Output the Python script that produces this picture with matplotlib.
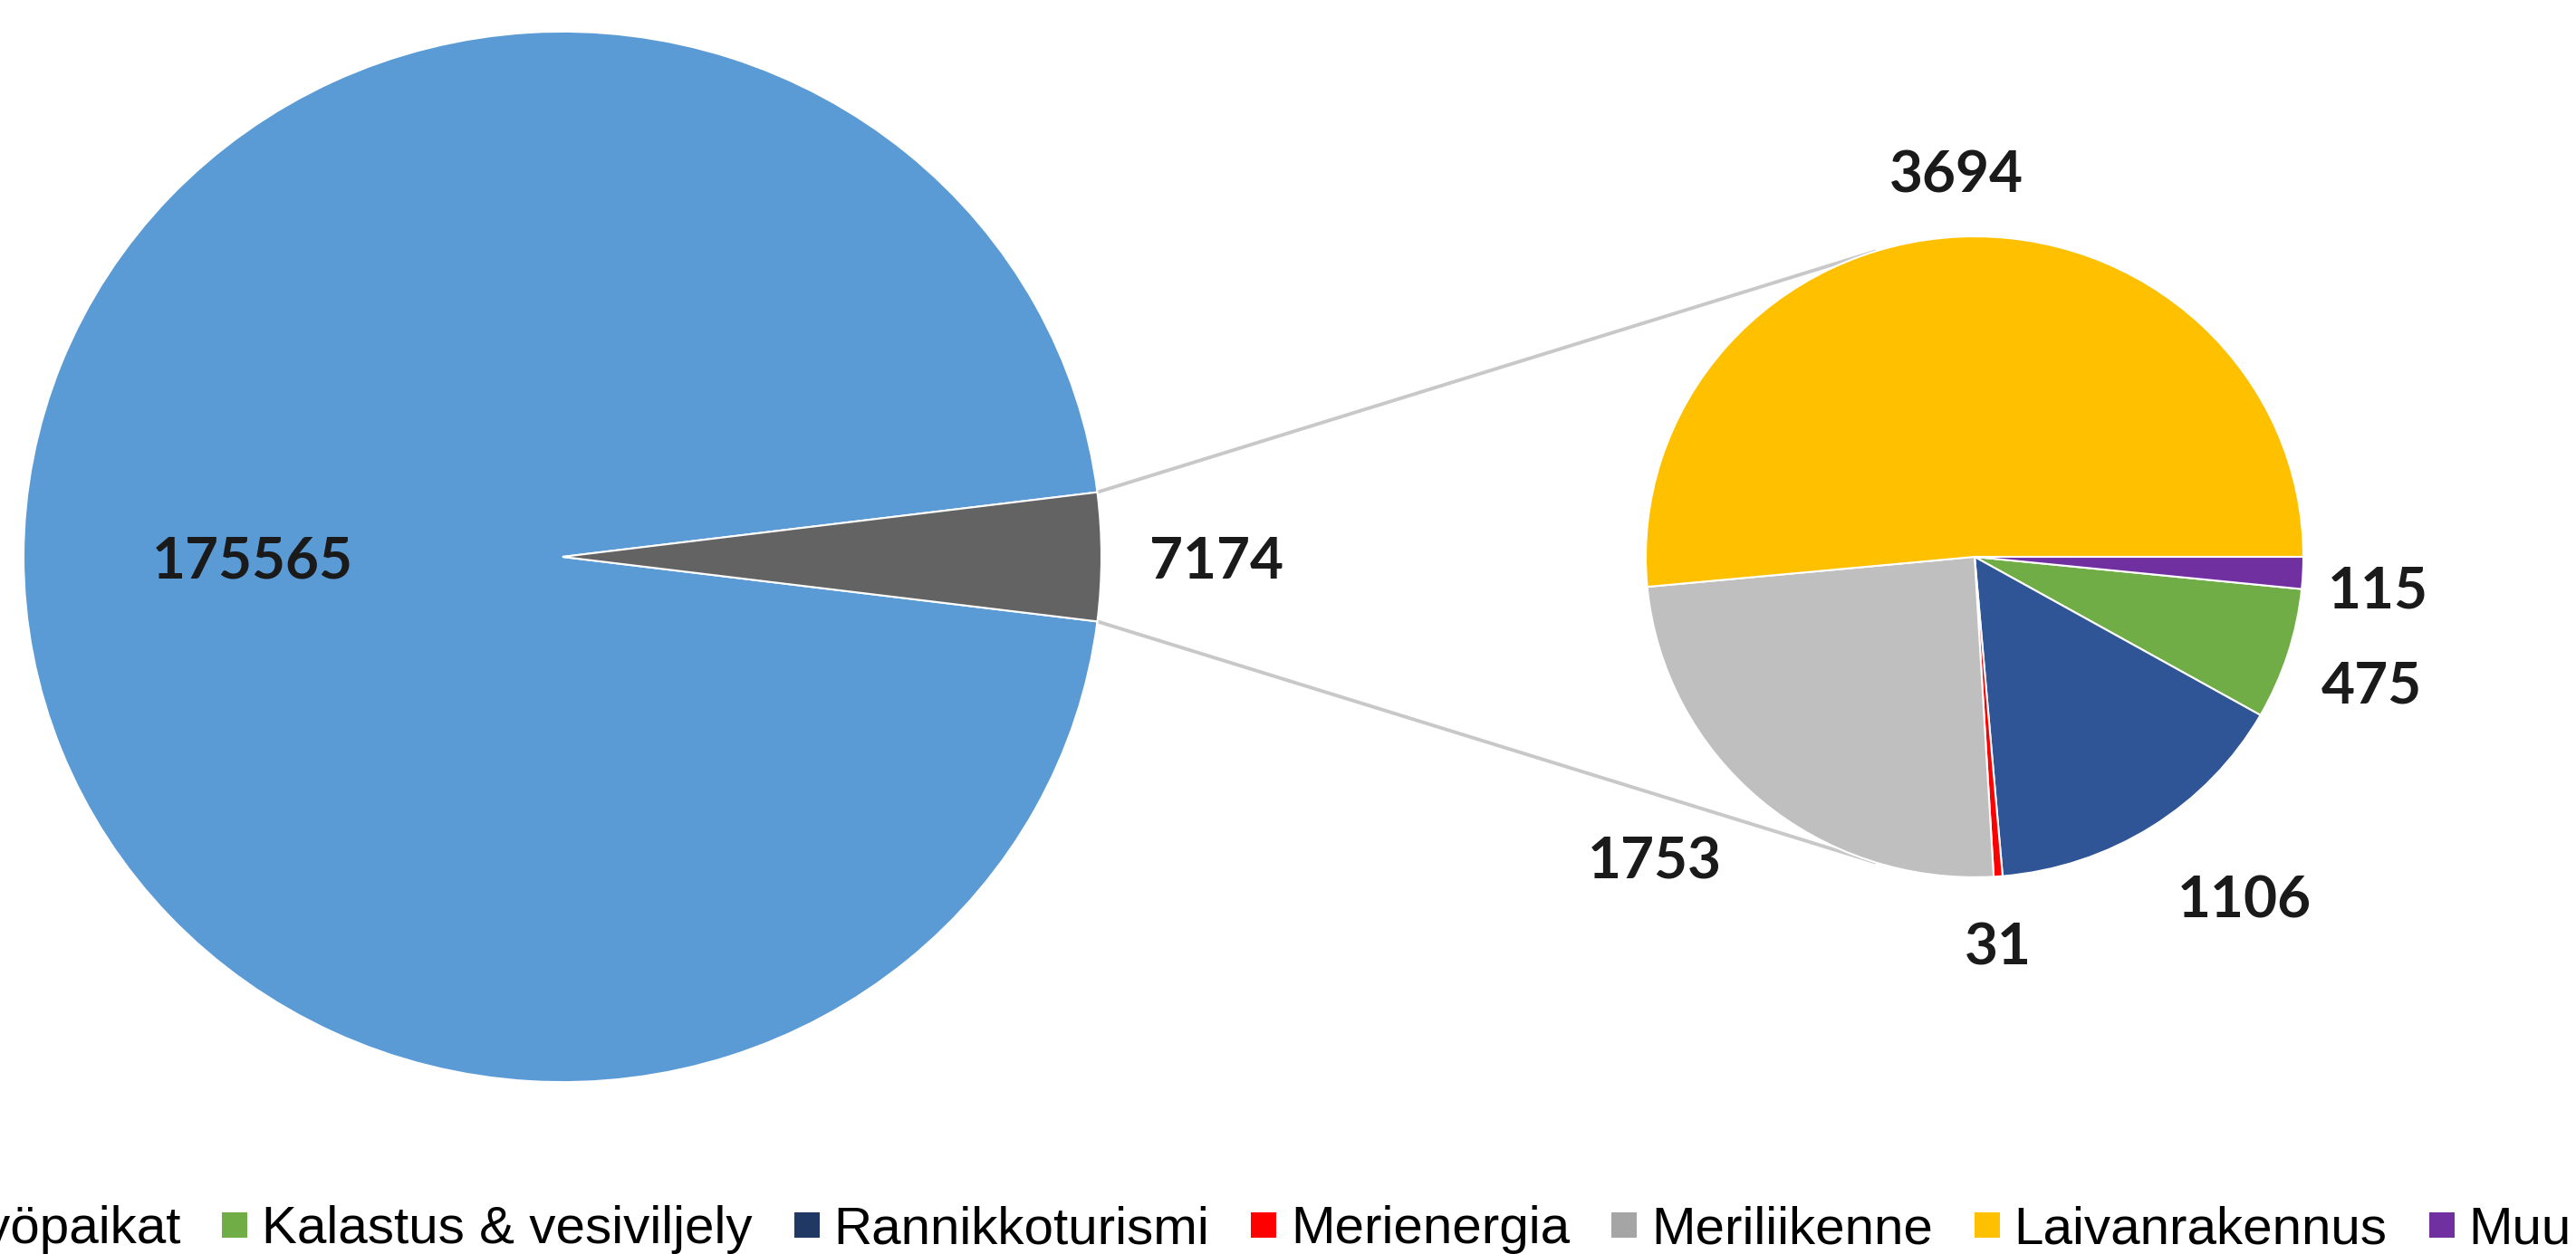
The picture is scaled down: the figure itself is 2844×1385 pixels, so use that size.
import numpy as np
import matplotlib
matplotlib.use('Agg')
import matplotlib.pyplot as plt
from matplotlib.lines import Line2D

# values
main_values = [175565, 7174]
main_colors = ['#5B9BD5', '#636363']

sub_names = ['Kalastus & vesiviljely', 'Rannikkoturismi', 'Merienergia',
             'Meriliikenne', 'Laivanrakennus', 'Muu']
sub_values = [475, 1106, 31, 1753, 3694, 115]
sub_colors = ['#70AD47', '#2F5597', '#FF0000', '#BFBFBF', '#FFC000', '#7030A0']

legend_names = ['Muut työpaikat'] + sub_names
legend_colors = ['#5B9BD5', '#70AD47', '#203864', '#FF0000', '#A5A5A5', '#FFC000', '#7030A0']

# label placement (fraction of radius, angle nudge in degrees)
main_lab_dist = [0.575, 1.213]
sub_lab_dist = [1.27, 1.34, 1.21, 1.35, 1.205, 1.23]
sub_lab_shift = [-0.2, 5.1, -0.7, -5.4, -0.1, -1.4]

W, H = 2844, 1385
SQ = 0.975  # the source picture is slightly squashed vertically

plt.rcParams['font.family'] = ['Liberation Sans', 'DejaVu Sans']

fig = plt.figure(figsize=(W / 100, H / 100), dpi=100)
ax = fig.add_axes([0, 0, 1, 1])

left_c = (621, (H - 615) / SQ)
left_r = 595
right_c = (2180, (H - 615) / SQ)
right_r = 363

wprops = dict(edgecolor='white', linewidth=1.5)

half = 180.0 * main_values[1] / sum(main_values)
wl, _ = ax.pie(main_values, colors=main_colors, startangle=half, counterclock=True,
               center=left_c, radius=left_r, wedgeprops=wprops)

start = -360.0 * sub_values[-1] / sum(sub_values)
ws, _ = ax.pie(sub_values, colors=sub_colors, startangle=start, counterclock=False,
               center=right_c, radius=right_r, wedgeprops=wprops)

ax.set_xlim(0, W)
ax.set_ylim(0, H / SQ)
ax.set_aspect('auto')
ax.axis('off')


def polar(c, r, ang, d):
    a = np.radians(ang)
    return c[0] + d * r * np.cos(a), c[1] + d * r * np.sin(a)


lab_font = dict(family=['Lato', 'DejaVu Sans'], weight='bold', size=46, color='#1a1a1a')

for w, v, d in zip(wl, main_values, main_lab_dist):
    mid = (w.theta1 + w.theta2) / 2
    x, y = polar(left_c, left_r, mid, d)
    ax.text(x, y, str(v), ha='center', va='center_baseline', **lab_font)

for w, v, d, s in zip(ws, sub_values, sub_lab_dist, sub_lab_shift):
    mid = (w.theta1 + w.theta2) / 2 + s
    x, y = polar(right_c, right_r, mid, d)
    ax.text(x, y, str(v), ha='center', va='center_baseline', **lab_font)


# connector lines: from the corners of the small wedge, tangent to the second pie
def tangent(p, c, r, sign):
    v = np.subtract(p, c)
    d = np.hypot(*v)
    a = sign * np.arccos(r / d)
    u = v / d
    rot = np.array([[np.cos(a), -np.sin(a)], [np.sin(a), np.cos(a)]])
    return np.asarray(c) + r * rot @ u


gw = wl[1]
for ang, sign in [(gw.theta2, -1), (gw.theta1, 1)]:
    p = polar(left_c, left_r, ang, 1.0)
    t = tangent(p, right_c, right_r, sign)
    ax.plot([p[0], t[0]], [p[1], t[1]], color='#c8c8c8', lw=2.8, zorder=0,
            solid_capstyle='round')

handles = [Line2D([], [], ls='none', marker='s', markersize=20,
                  markerfacecolor=c, markeredgewidth=0) for c in legend_colors]
leg = fig.legend(handles, legend_names, loc='lower left', bbox_to_anchor=(0, 0),
                 ncol=7, frameon=False, prop=dict(size=42), handlelength=0.48,
                 handletextpad=0.27, columnspacing=0.79, borderpad=0,
                 borderaxespad=0, numpoints=1)

# shift the legend so it sits where the original one is (cut at both sides)
fig.canvas.draw()
rend = fig.canvas.get_renderer()
txt = leg.get_texts()[1]
bb = txt.get_window_extent(rend)
_, _, desc = rend.get_text_width_height_descent('lp', txt.get_fontproperties(), ismath=False)
dx = 289 - bb.x0
dy = (12 - desc) - bb.y0
leg.set_bbox_to_anchor((dx / W, dy / H), transform=fig.transFigure)

fig.savefig('out.png', dpi=100, facecolor='white')
